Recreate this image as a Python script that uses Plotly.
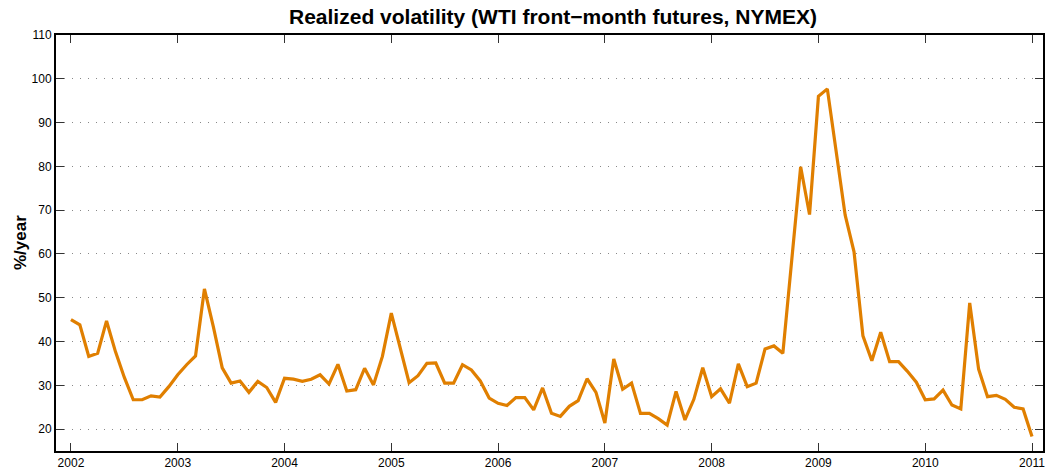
import plotly.graph_objects as go

start_year = 2002
vol_2002 = [45.0, 43.8, 36.6, 37.3, 44.7, 37.7, 31.8, 26.7, 26.7, 27.6, 27.3, 29.7]
vol_2003 = [32.4, 34.7, 36.7, 52.0, 43.4, 34.0, 30.5, 31.0, 28.4, 30.9, 29.5, 26.1]
vol_2004 = [31.6, 31.4, 30.9, 31.4, 32.4, 30.3, 34.8, 28.7, 29.0, 33.9, 30.1, 36.6]
vol_2005 = [46.5, 38.5, 30.6, 32.2, 35.0, 35.1, 30.5, 30.5, 34.7, 33.5, 31.0, 27.1]
vol_2006 = [25.9, 25.4, 27.2, 27.2, 24.4, 29.4, 23.6, 22.9, 25.2, 26.5, 31.5, 28.4]
vol_2007 = [21.4, 36.0, 29.1, 30.5, 23.6, 23.6, 22.4, 20.9, 28.6, 22.1, 26.8, 34.0]
vol_2008 = [27.4, 29.2, 25.9, 34.9, 29.7, 30.5, 38.3, 39.0, 37.3, 58.6, 79.9, 69.0]
vol_2009 = [96.0, 97.7, 83.3, 68.9, 60.5, 41.3, 35.6, 42.1, 35.4, 35.4, 33.2, 30.7]
vol_2010 = [26.7, 26.9, 28.9, 25.5, 24.6, 48.8, 33.7, 27.4, 27.7, 26.8, 25.0, 24.6]
vol_2011 = [18.3]

values = vol_2002 + vol_2003 + vol_2004 + vol_2005 + vol_2006 + vol_2007 + vol_2008 + vol_2009 + vol_2010 + vol_2011
times = [start_year + i / 12 for i in range(len(values))]

x_ticks = list(range(2002, 2012))
y_ticks = list(range(20, 111, 10))

W, H = 1047, 472
L, R, T, B = 56, 2, 35, 21
fig = go.Figure()
fig.add_trace(go.Scatter(x=times, y=values, mode="lines",
                         line=dict(color="#E07F00", width=3.2), showlegend=False))

font_family = "Liberation Sans, Arial, sans-serif"
fig.update_layout(
    width=W, height=H,
    margin=dict(l=L, r=R, t=T, b=B),
    paper_bgcolor="white", plot_bgcolor="white",
    font=dict(family=font_family, size=12, color="black"),
    title=dict(text="<b>Realized volatility (WTI front\u2212month futures, NYMEX)</b>",
               xref="container", yref="container",
               x=553 / W, xanchor="center", y=1 - 16.5 / H, yanchor="middle",
               font=dict(size=21, family=font_family, color="black")),
    annotations=[dict(text="<b>%/year</b>", xref="paper", yref="paper",
                      x=(20 - L) / (W - L - R), y=0.5, xanchor="center", yanchor="middle",
                      textangle=-90, showarrow=False,
                      font=dict(size=17, family=font_family, color="black"))],
)
fig.update_xaxes(
    range=[2001.86, 2011.103], tickvals=x_ticks, ticktext=[str(t) for t in x_ticks],
    showgrid=False, zeroline=False,
    showline=True, linecolor="black", linewidth=2, mirror="allticks",
    ticks="inside", ticklen=8, tickcolor="#333", tickwidth=1,
    tickfont=dict(size=12),
)
fig.update_yaxes(
    range=[15, 110], tickvals=y_ticks,
    showgrid=True, gridcolor="#888", griddash="1px,7px", gridwidth=1,
    zeroline=False,
    showline=True, linecolor="black", linewidth=2, mirror="allticks",
    ticks="inside", ticklen=8, tickcolor="#333", tickwidth=1,
    tickfont=dict(size=12),
)

fig.write_html("out.html", config={"displayModeBar": False},
               post_script="document.body.style.margin='0';")
